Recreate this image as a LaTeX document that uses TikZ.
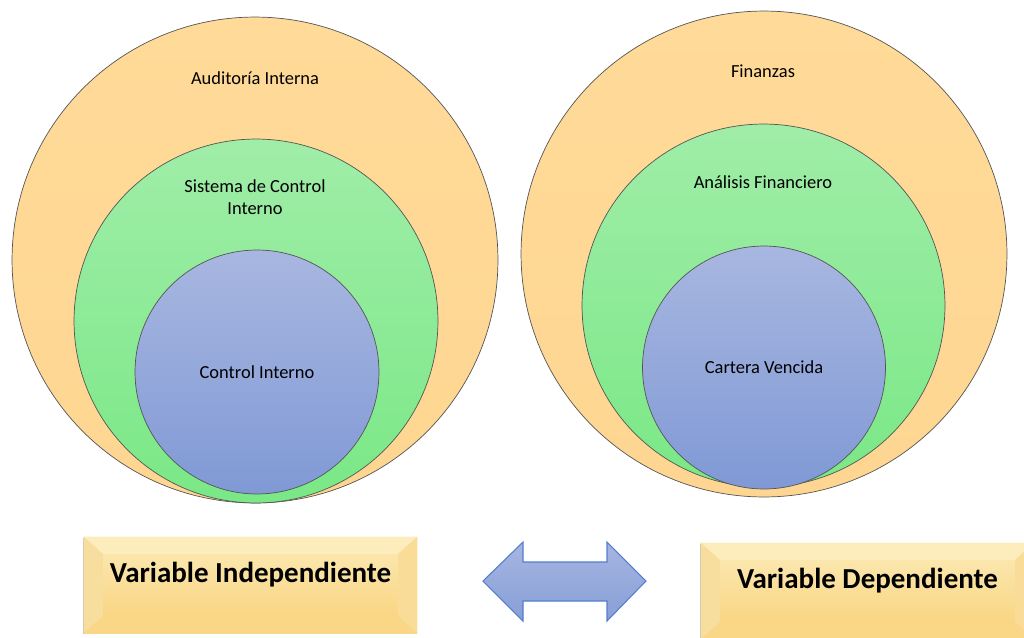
\documentclass[tikz,border=0pt]{standalone}
\usepackage{fontspec}
\setmainfont{Carlito}
\usetikzlibrary{calc,shadows}
\definecolor{orangefill}{RGB}{254,214,146}
\definecolor{orangetop}{RGB}{255,218,152}
\definecolor{greentop}{RGB}{160,237,168}
\definecolor{greenbot}{RGB}{122,232,134}
\definecolor{bluetop}{RGB}{168,183,224}
\definecolor{bluebot}{RGB}{128,153,213}
\definecolor{rimgray}{RGB}{85,85,85}
\definecolor{goldtop}{RGB}{251,230,172}
\definecolor{goldbot}{RGB}{249,214,132}
\definecolor{bevtop}{RGB}{253,236,188}
\definecolor{bevleft}{RGB}{248,222,158}
\definecolor{bevright}{RGB}{249,220,152}
\definecolor{bevbot}{RGB}{249,215,135}
\definecolor{arrowtop}{RGB}{166,182,226}
\definecolor{arrowbot}{RGB}{135,158,214}
\definecolor{arrowrim}{RGB}{84,126,205}
\tikzset{every shadow/.style={fill=black,opacity=0.25,shadow xshift=-0.6pt,shadow yshift=-0.8pt}}
\newcommand{\lbl}{\fontsize{10.5}{12.5}\selectfont}
\newcommand{\varlbl}{\bfseries\fontsize{16.5}{20}\selectfont}

\begin{document}
\begin{tikzpicture}[x=0.02cm,y=-0.02cm,
  ring/.style={circle,draw=rimgray,line width=0.4pt,inner sep=0pt,outer sep=0pt},
  outerring/.style={ring,top color=orangetop,bottom color=orangefill},
  midring/.style={ring,top color=greentop,bottom color=greenbot},
  coring/.style={ring,top color=bluetop,bottom color=bluebot},
  varbox/.style={rectangle,inner sep=0pt,minimum width=6.66cm,minimum height=1.92cm,
    top color=goldtop,bottom color=goldbot,drop shadow},
  txt/.style={font=\lbl,align=center,inner sep=0pt}]
% \draw[help lines] (0,0) grid (1024,637);
\useasboundingbox (0,0) rectangle (1024,637);
\clip (0,0) rectangle (1024,637);
%
\node (audL) [outerring,minimum size=9.72cm] at (255,260) {};
\node (sysL) [midring,minimum size=7.28cm] at (256,321) {};
\node (ctrlL) [coring,minimum size=4.88cm] at (257,372) {};
\node (tAud) [txt] at (255,78) {Auditoría Interna};
\node (tSys) [txt] at (255,197) {Sistema de Control\\Interno};
\node (tCtrl) [txt] at (ctrlL) {Control Interno};
%
\node (finR) [outerring,minimum size=9.72cm] at (764,254) {};
\node (anaR) [midring,minimum size=7.26cm] at (763.5,305.5) {};
\node (carR) [coring,minimum size=4.86cm] at (764,367.5) {};
\node (tFin) [txt] at (763,71) {Finanzas};
\node (tAna) [txt] at (763,182) {Análisis Financiero};
\node (tCar) [txt] at (carR) {Cartera Vencida};
%
\foreach \b/\x/\y in {indep/250.5/585, dep/867.5/591}{
  \node (\b) [varbox] at (\x,\y) {};
  \fill[bevtop] (\b.north west) -- (\b.north east) -- ($(\b.north east)+(-20,18)$) -- ($(\b.north west)+(20,18)$) -- cycle;
  \fill[bevleft] (\b.north west) -- ($(\b.north west)+(20,18)$) -- ($(\b.south west)+(20,-18)$) -- (\b.south west) -- cycle;
  \fill[bevright] (\b.north east) -- ($(\b.north east)+(-20,18)$) -- ($(\b.south east)+(-20,-18)$) -- (\b.south east) -- cycle;
  \fill[bevbot] (\b.south west) -- ($(\b.south west)+(20,-18)$) -- ($(\b.south east)+(-20,-18)$) -- (\b.south east) -- cycle;
  \shade[top color=goldtop,bottom color=goldbot] ($(\b.north west)+(20,18)$) rectangle ($(\b.south east)+(-20,-18)$);
}
\node (tIndep) [font=\varlbl,anchor=base,inner sep=0pt] at ($(indep.center)+(0,-3)$) {Variable Independiente};
\node (tDep) [font=\varlbl,anchor=base,inner sep=0pt] at ($(dep.center)+(0,-3)$) {Variable Dependiente};
%
\shade[top color=arrowtop,bottom color=arrowbot,draw=arrowrim,line width=0.6pt,line join=miter]
  (483,581) -- (523,542) -- (523,562) -- (607,562) -- (607,542) -- (646,581)
  -- (607,621) -- (607,601) -- (523,601) -- (523,621) -- cycle;
\end{tikzpicture}
\end{document}
